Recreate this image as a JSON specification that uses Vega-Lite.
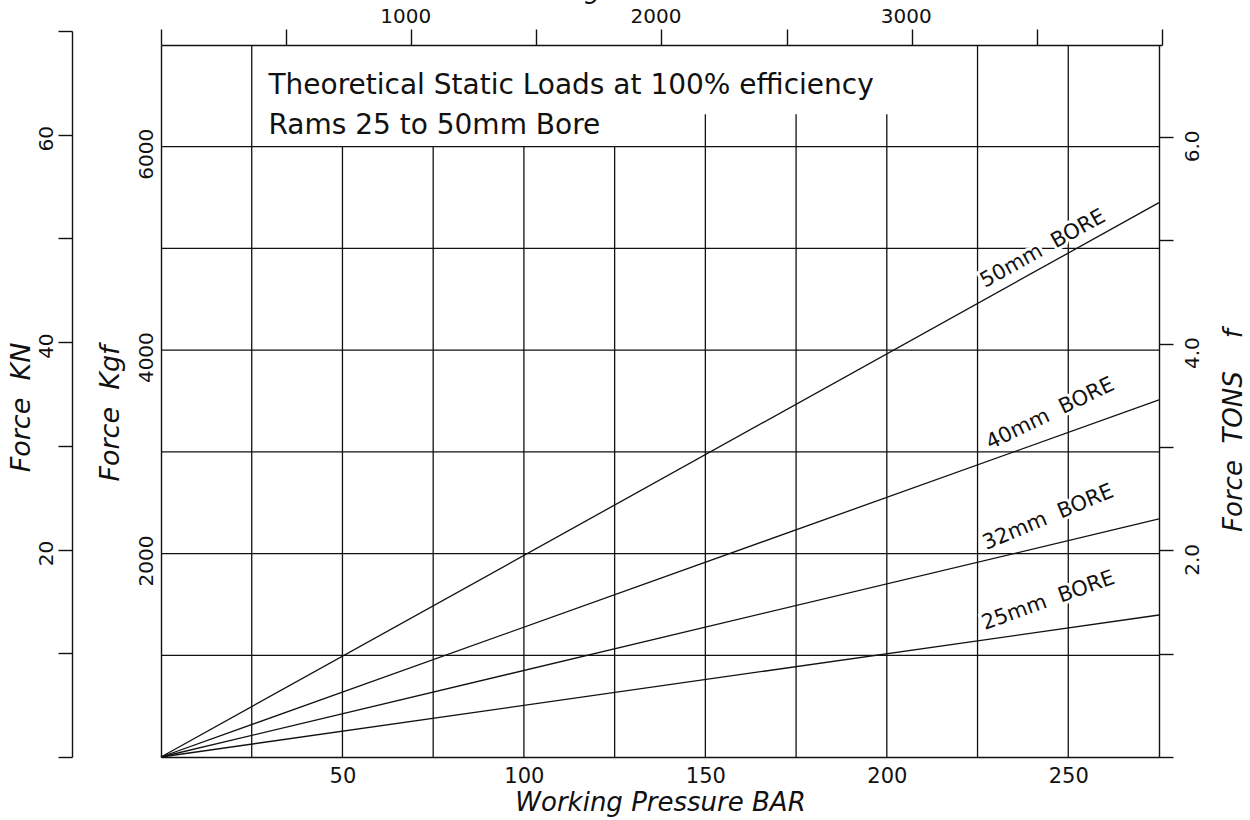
{
  "$schema": "https://vega.github.io/schema/vega-lite/v6.json",
  "width": 998,
  "height": 712,
  "autosize": {"type": "none"},
  "padding": {"left": 161, "top": 45, "right": 91, "bottom": 63},
  "background": "white",
  "config": {
    "view": {"stroke": null},
    "font": "DejaVu Sans",
    "axis": {
      "grid": false,
      "domainColor": "#111111",
      "domainWidth": 1.4,
      "tickColor": "#111111",
      "tickWidth": 1.4,
      "labelColor": "#111111",
      "titleColor": "#111111",
      "labelFont": "DejaVu Sans",
      "titleFont": "DejaVu Sans",
      "labelFontWeight": "normal",
      "titleFontWeight": "normal",
      "titleFontStyle": "italic",
      "labelFontSize": 20,
      "titleFontSize": 27,
      "labelOverlap": false,
      "labelFlush": false,
      "labelBound": false
    }
  },
  "datasets": {
    "hgrid": [
      {"bar": 0, "bar2": 275, "kgf": 1000},
      {"bar": 0, "bar2": 275, "kgf": 2000},
      {"bar": 0, "bar2": 275, "kgf": 3000},
      {"bar": 0, "bar2": 275, "kgf": 4000},
      {"bar": 0, "bar2": 275, "kgf": 5000},
      {"bar": 0, "bar2": 275, "kgf": 6000}
    ],
    "vgrid": [
      {"bar": 25, "kgf": 0, "kgf2": 7000},
      {"bar": 50, "kgf": 0, "kgf2": 6000},
      {"bar": 75, "kgf": 0, "kgf2": 6000},
      {"bar": 100, "kgf": 0, "kgf2": 6000},
      {"bar": 125, "kgf": 0, "kgf2": 6000},
      {"bar": 150, "kgf": 0, "kgf2": 6320},
      {"bar": 175, "kgf": 0, "kgf2": 6320},
      {"bar": 200, "kgf": 0, "kgf2": 6320},
      {"bar": 225, "kgf": 0, "kgf2": 7000},
      {"bar": 250, "kgf": 0, "kgf2": 7000}
    ],
    "bores": [
      {"bore": "50mm", "bar": 0, "kgf": 0},
      {"bore": "50mm", "bar": 275, "kgf": 5450},
      {"bore": "40mm", "bar": 0, "kgf": 0},
      {"bore": "40mm", "bar": 275, "kgf": 3510},
      {"bore": "32mm", "bar": 0, "kgf": 0},
      {"bore": "32mm", "bar": 275, "kgf": 2340},
      {"bore": "25mm", "bar": 0, "kgf": 0},
      {"bore": "25mm", "bar": 275, "kgf": 1396}
    ],
    "labels": [
      {"bore": "50mm", "bar": 228.4, "kgf": 4526, "text": "50mm\u00a0 BORE"},
      {"bore": "40mm", "bar": 229.7, "kgf": 2932, "text": "40mm\u00a0 BORE"},
      {"bore": "32mm", "bar": 228.5, "kgf": 1944, "text": "32mm\u00a0 BORE"},
      {"bore": "25mm", "bar": 227.9, "kgf": 1157, "text": "25mm\u00a0 BORE"}
    ],
    "notes": [
      {"bar": 29.6, "kgf": 6518, "text": "Theoretical Static Loads at 100% efficiency"},
      {"bar": 29.6, "kgf": 6125, "text": "Rams 25 to 50mm Bore"}
    ]
  },
  "layer": [
    {
      "layer": [
        {
          "data": {"name": "hgrid"},
          "mark": {"type": "rule", "color": "#111111", "strokeWidth": 1.3},
          "encoding": {
            "x": {
              "field": "bar", "type": "quantitative",
              "scale": {"domain": [0, 275], "nice": false, "zero": true},
              "axis": {
                "orient": "bottom",
                "values": [50, 100, 150, 200, 250],
                "format": "d",
                "ticks": false,
                "tickSize": 0,
                "labelPadding": 8,
                "labelBaseline": "top",
                "labelFontSize": 21,
                "title": "Working Pressure BAR",
                "titleFontSize": 26,
                "titleAlign": "center",
                "titleBaseline": "alphabetic",
                "titleX": 499,
                "titleY": 53
              }
            },
            "x2": {"field": "bar2"},
            "y": {
              "field": "kgf", "type": "quantitative",
              "scale": {"domain": [0, 7000], "nice": false, "zero": true},
              "axis": {
                "orient": "left",
                "values": [2000, 4000, 6000],
                "format": "d",
                "ticks": false,
                "tickSize": 0,
                "labelAngle": 270,
                "labelAlign": "center",
                "labelBaseline": "alphabetic",
                "labelPadding": 9,
                "labelOffset": 7,
                "labelFontSize": 20,
                "title": "Force\u00a0\u00a0Kgf",
                "titleAngle": 270,
                "titleAlign": "center",
                "titleBaseline": "alphabetic",
                "titleX": -43,
                "titleY": 368
              }
            }
          }
        },
        {
          "data": {"name": "vgrid"},
          "mark": {"type": "rule", "color": "#111111", "strokeWidth": 1.3},
          "encoding": {
            "x": {"field": "bar", "type": "quantitative"},
            "y": {"field": "kgf", "type": "quantitative"},
            "y2": {"field": "kgf2"}
          }
        },
        {
          "data": {"name": "labels"},
          "mark": {"type": "text", "font": "DejaVu Sans", "fontSize": 21, "align": "left", "baseline": "alphabetic", "dy": -10, "stroke": "white", "strokeWidth": 6, "fill": "white"},
          "encoding": {
            "x": {"field": "bar", "type": "quantitative"},
            "y": {"field": "kgf", "type": "quantitative"},
            "text": {"field": "text"},
            "angle": {"field": "bore", "type": "nominal", "scale": {"domain": ["50mm", "40mm", "32mm", "25mm"], "range": [330.95, 340.32, 346.59, 351.9]}, "legend": null}
          }
        },
        {
          "data": {"name": "bores"},
          "mark": {"type": "line", "color": "#111111", "strokeWidth": 1.3},
          "encoding": {
            "x": {"field": "bar", "type": "quantitative"},
            "y": {"field": "kgf", "type": "quantitative"},
            "detail": {"field": "bore"}
          }
        },
        {
          "data": {"name": "labels"},
          "mark": {"type": "text", "font": "DejaVu Sans", "fontSize": 21, "align": "left", "baseline": "alphabetic", "dy": -10, "color": "#111111"},
          "encoding": {
            "x": {"field": "bar", "type": "quantitative"},
            "y": {"field": "kgf", "type": "quantitative"},
            "text": {"field": "text"},
            "angle": {"field": "bore", "type": "nominal", "scale": {"domain": ["50mm", "40mm", "32mm", "25mm"], "range": [330.95, 340.32, 346.59, 351.9]}, "legend": null}
          }
        },
        {
          "data": {"name": "notes"},
          "mark": {"type": "text", "font": "DejaVu Sans", "fontSize": 28, "align": "left", "baseline": "alphabetic", "color": "#111111"},
          "encoding": {
            "x": {"field": "bar", "type": "quantitative"},
            "y": {"field": "kgf", "type": "quantitative"},
            "text": {"field": "text"}
          }
        }
      ]
    },
    {
      "data": {"values": [{"kn": 0}, {"kn": 70}]},
      "mark": {"type": "point", "opacity": 0},
      "encoding": {
        "y": {
          "field": "kn", "type": "quantitative",
          "scale": {"domain": [0, 70], "range": [712, -14], "nice": false, "zero": true},
          "axis": {
            "orient": "left",
            "offset": 89,
            "values": [0, 10, 20, 30, 40, 50, 60, 70],
            "labelExpr": "datum.value == 20 || datum.value == 40 || datum.value == 60 ? datum.label : ''",
            "tickSize": 14,
            "labelAngle": 270,
            "labelAlign": "center",
            "labelBaseline": "alphabetic",
            "labelPadding": 6,
            "labelOffset": 3.5,
            "labelFontSize": 20,
            "title": "Force\u00a0\u00a0KN",
            "titleAngle": 270,
            "titleAlign": "center",
            "titleBaseline": "alphabetic",
            "titleX": -43,
            "titleY": 362
          }
        }
      }
    },
    {
      "data": {"values": [{"tons": 0}, {"tons": 6}]},
      "mark": {"type": "point", "opacity": 0},
      "encoding": {
        "y": {
          "field": "tons", "type": "quantitative",
          "scale": {"domain": [0, 6.8894], "nice": false, "zero": true},
          "axis": {
            "orient": "right",
            "values": [0, 1, 2, 3, 4, 5, 6],
            "labelExpr": "datum.value == 2 || datum.value == 4 || datum.value == 6 ? format(datum.value, '.1f') : ''",
            "tickSize": 14,
            "labelAngle": 270,
            "labelAlign": "center",
            "labelBaseline": "top",
            "labelPadding": 9,
            "labelOffset": 9,
            "labelFontSize": 20,
            "title": "Force\u00a0\u00a0TONS\u00a0\u00a0\u00a0\u00a0f",
            "titleAngle": 270,
            "titleAlign": "center",
            "titleBaseline": "alphabetic",
            "titleFontSize": 26,
            "titleX": 82,
            "titleY": 385
          }
        }
      }
    },
    {
      "data": {"values": [{"psi": 0}, {"psi": 4000}]},
      "mark": {"type": "point", "opacity": 0},
      "encoding": {
        "x": {
          "field": "psi", "type": "quantitative",
          "scale": {"domain": [0, 4000], "range": [0, 1000.9], "nice": false, "zero": true},
          "axis": {
            "orient": "top",
            "values": [0, 500, 1000, 1500, 2000, 2500, 3000, 3500, 4000],
            "labelExpr": "datum.value == 1000 || datum.value == 2000 || datum.value == 3000 ? datum.value + '' : ''",
            "tickSize": 16,
            "labelBaseline": "alphabetic",
            "labelPadding": 7,
            "labelOffset": -6,
            "labelFontSize": 20,
            "title": "Working Pressure PSI",
            "titleFontSize": 26,
            "titleAlign": "center",
            "titleBaseline": "alphabetic",
            "titleX": 470,
            "titleY": -48
          }
        }
      }
    }
  ],
  "resolve": {"scale": {"x": "independent", "y": "independent"}}
}
